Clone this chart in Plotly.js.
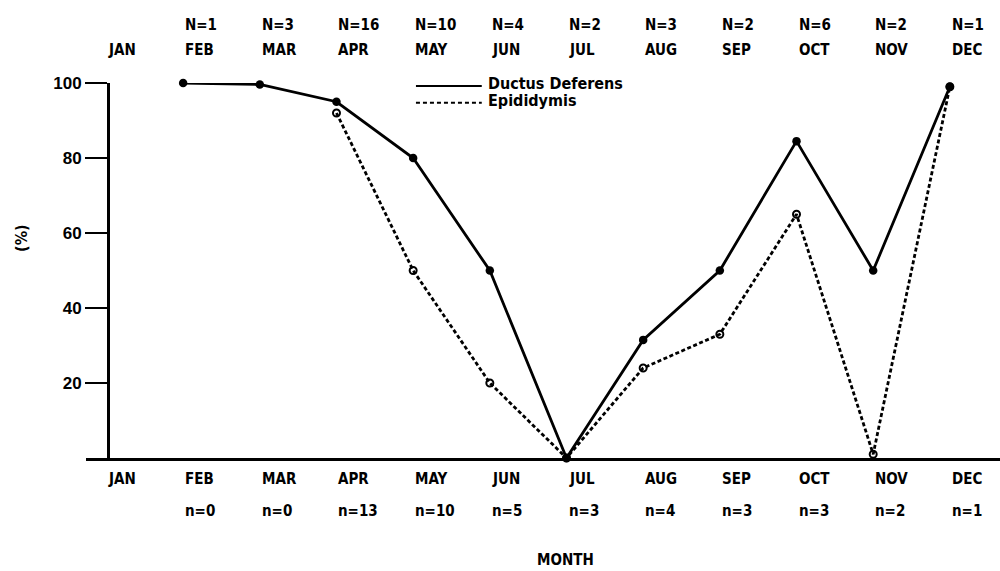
<!DOCTYPE html>
<html>
<head>
<meta charset="utf-8">
<script src="https://cdn.plot.ly/plotly-3.0.1.min.js"></script>
<style>
  html, body { margin: 0; padding: 0; background: #fff; }
  #chart { width: 1000px; height: 571px; }
</style>
</head>
<body>
<div id="chart"></div>
<script>
// Months along the x axis
const months = ['JAN', 'FEB', 'MAR', 'APR', 'MAY', 'JUN', 'JUL', 'AUG', 'SEP', 'OCT', 'NOV', 'DEC'];

// Sample sizes per month (top row: ductus deferens, bottom row: epididymis)
const nDuctus = ['', 'N=1', 'N=3', 'N=16', 'N=10', 'N=4', 'N=2', 'N=3', 'N=2', 'N=6', 'N=2', 'N=1'];
const nEpididymis = ['', 'n=0', 'n=0', 'n=13', 'n=10', 'n=5', 'n=3', 'n=4', 'n=3', 'n=3', 'n=2', 'n=1'];

// Percentages per month
const ductusDeferens = [null, 100, 99.6, 95, 80, 50, 0, 31.5, 50, 84.5, 50, 99];
const epididymis = [null, null, null, 92, 50, 20, 0, 24, 33, 65, 1, 99];

const BOLD = 'DejaVu Sans Condensed, DejaVu Sans, sans-serif';
const TICKS = 'Liberation Sans, Arial, sans-serif';

const traces = [
  {
    name: 'Ductus Deferens',
    x: months,
    y: ductusDeferens,
    mode: 'lines+markers',
    line: { color: '#000', width: 2.8 },
    marker: { color: '#000', size: 8.5, symbol: 'circle' },
    cliponaxis: false,
    showlegend: false,
    hoverinfo: 'x+y'
  },
  {
    name: 'Epididymis',
    x: months,
    y: epididymis,
    mode: 'lines+markers',
    line: { color: '#000', width: 2.8, dash: '4px,2.5px' },
    marker: { color: '#000', size: 7, symbol: 'circle-open', line: { width: 2, color: '#000' } },
    cliponaxis: false,
    showlegend: false,
    hoverinfo: 'x+y'
  }
];

// Month names and sample sizes written above and below the plot
const annotations = [];
const labelFont = { family: BOLD, size: 15, color: '#000', weight: 'bold' };
const countFont = { family: BOLD, size: 15, color: '#000', weight: 'bold' };
months.forEach((m, i) => {
  annotations.push({ x: m, xref: 'x', y: 1.088, yref: 'paper', text: m, showarrow: false,
    xanchor: 'left', yanchor: 'middle', font: labelFont });
  annotations.push({ x: m, xref: 'x', y: -0.056, yref: 'paper', text: m, showarrow: false,
    xanchor: 'left', yanchor: 'middle', font: labelFont });
  if (nDuctus[i]) {
    annotations.push({ x: m, xref: 'x', y: 1.155, yref: 'paper', text: nDuctus[i], showarrow: false,
      xanchor: 'left', yanchor: 'middle', font: countFont });
  }
  if (nEpididymis[i]) {
    annotations.push({ x: m, xref: 'x', y: -0.141, yref: 'paper', text: nEpididymis[i], showarrow: false,
      xanchor: 'left', yanchor: 'middle', font: countFont });
  }
});

// Axis titles
annotations.push({ x: 0.525, xref: 'paper', y: -0.271, yref: 'paper', text: 'MONTH', showarrow: false,
  xanchor: 'center', yanchor: 'middle', font: labelFont });
annotations.push({ x: -0.07, xref: 'paper', y: 0.587, yref: 'paper', text: '(%)', showarrow: false,
  textangle: -90, xanchor: 'center', yanchor: 'middle', font: { family: BOLD, size: 16, color: '#000', weight: 'bold' } });

// Key: line samples with their labels
const keyFont = { family: BOLD, size: 16, color: '#000', weight: 'bold' };
annotations.push({ x: 0.4376, xref: 'paper', y: 1.0, yref: 'paper', text: 'Ductus Deferens', showarrow: false,
  xanchor: 'left', yanchor: 'middle', font: keyFont });
annotations.push({ x: 0.4376, xref: 'paper', y: 0.953, yref: 'paper', text: 'Epididymis', showarrow: false,
  xanchor: 'left', yanchor: 'middle', font: keyFont });

const shapes = [
  { type: 'line', xref: 'paper', yref: 'paper', x0: 0.361, x1: 0.433, y0: 0.992, y1: 0.992,
    line: { color: '#000', width: 2 } },
  { type: 'line', xref: 'paper', yref: 'paper', x0: 0.361, x1: 0.433, y0: 0.9475, y1: 0.9475,
    line: { color: '#000', width: 2, dash: '4px,3px' } }
];

const layout = {
  width: 1000,
  height: 571,
  margin: { l: 86, r: 0, t: 83, b: 113, pad: 0 },
  paper_bgcolor: '#fff',
  plot_bgcolor: '#fff',
  showlegend: false,
  xaxis: {
    type: 'category',
    categoryorder: 'array',
    categoryarray: months,
    range: [-0.267, 11.654],
    showline: true,
    linecolor: '#000',
    linewidth: 2.5,
    ticks: '',
    showticklabels: false,
    showgrid: false,
    zeroline: false,
    fixedrange: true
  },
  yaxis: {
    range: [0, 100],
    anchor: 'free',
    position: 0.0241,
    showline: true,
    linecolor: '#000',
    linewidth: 2.5,
    ticks: 'outside',
    ticklen: 22,
    tickwidth: 2,
    tickcolor: '#000',
    tickvals: [20, 40, 60, 80, 100],
    ticktext: ['20', '40', '60', '80', '100'],
    tickfont: { family: TICKS, size: 17, color: '#000', weight: 'bold' },
    showgrid: false,
    zeroline: false,
    fixedrange: true
  },
  annotations: annotations,
  shapes: shapes
};

Plotly.newPlot('chart', traces, layout, { displayModeBar: false, staticPlot: true });
</script>
</body>
</html>
